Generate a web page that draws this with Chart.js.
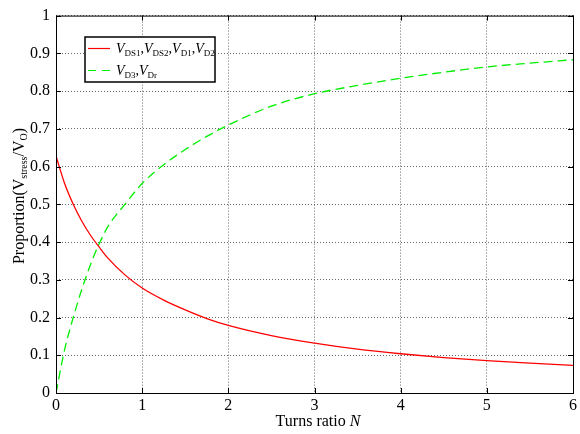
<!DOCTYPE html>
<html>
<head>
<meta charset="utf-8">
<script src="https://cdn.jsdelivr.net/npm/chart.js@4"></script>
<style>
  html, body { margin: 0; padding: 0; background: #fff; }
  #wrap { width: 580px; height: 434px; }
</style>
</head>
<body>
<div id="wrap"><canvas id="my-chart" width="580" height="434"></canvas></div>
<script>
const turnsRatio = [0, 0.1, 0.2, 0.3, 0.4, 0.5, 0.6, 0.8, 1, 1.25, 1.5, 1.75, 2, 2.5, 3, 3.5, 4, 4.5, 5, 5.5, 6];
const switchStress = [0.628, 0.555, 0.5, 0.455, 0.418, 0.387, 0.358, 0.313, 0.278, 0.246, 0.22, 0.197, 0.179, 0.152, 0.132, 0.116, 0.104, 0.094, 0.086, 0.079, 0.073];
const diodeStress = [0, 0.115, 0.2, 0.275, 0.34, 0.395, 0.44, 0.5, 0.555, 0.605, 0.645, 0.68, 0.71, 0.76, 0.793, 0.815, 0.834, 0.85, 0.864, 0.874, 0.883];

const serif = '"Liberation Serif", "Times New Roman", serif';

// draws a run of text parts: [text, 'n'|'i'|'s'] (normal, italic, subscript)
function drawParts(ctx, parts, x, y, size, subScale = 0.68) {
  let cx = x;
  for (const [text, kind] of parts) {
    if (kind === 's') {
      ctx.font = `${Math.round(size * subScale)}px ${serif}`;
      ctx.fillText(text, cx, y + size * 0.2);
    } else {
      ctx.font = `${kind === 'i' ? 'italic ' : ''}${size}px ${serif}`;
      ctx.fillText(text, cx, y);
    }
    cx += ctx.measureText(text).width;
  }
  return cx - x;
}

function measureParts(ctx, parts, size, subScale = 0.68) {
  let w = 0;
  for (const [text, kind] of parts) {
    if (kind === 's') ctx.font = `${Math.round(size * subScale)}px ${serif}`;
    else ctx.font = `${kind === 'i' ? 'italic ' : ''}${size}px ${serif}`;
    w += ctx.measureText(text).width;
  }
  return w;
}

const matlabFrame = {
  id: 'matlabFrame',
  afterDraw(chart) {
    const { ctx, chartArea: a, scales } = chart;
    ctx.save();
    ctx.strokeStyle = '#000';
    ctx.lineWidth = 1;
    ctx.strokeRect(a.left + 0.5, a.top + 0.5, a.right - a.left, a.bottom - a.top);

    // inward ticks on all sides
    ctx.beginPath();
    for (let v = 0; v <= 6; v++) {
      const px = Math.round(scales.x.getPixelForValue(v)) + 0.5;
      ctx.moveTo(px, a.bottom); ctx.lineTo(px, a.bottom - 5);
      ctx.moveTo(px, a.top); ctx.lineTo(px, a.top + 5);
    }
    for (let i = 0; i <= 10; i++) {
      const py = Math.round(scales.y.getPixelForValue(i / 10)) + 0.5;
      ctx.moveTo(a.left, py); ctx.lineTo(a.left + 5, py);
      ctx.moveTo(a.right, py); ctx.lineTo(a.right - 5, py);
    }
    ctx.stroke();

    // axis titles
    ctx.fillStyle = '#000';
    ctx.textBaseline = 'alphabetic';
    const xt = [['Turns ratio ', 'n'], ['N', 'i']];
    const xw = measureParts(ctx, xt, 16);
    drawParts(ctx, xt, 318 - xw / 2, 426, 16);

    const yt = [['Proportion(V', 'n'], ['stress', 's'], ['/V', 'n'], ['O', 's'], [')', 'n']];
    const yw = measureParts(ctx, yt, 16, 0.62);
    ctx.save();
    ctx.translate(24, 196);
    ctx.rotate(-Math.PI / 2);
    drawParts(ctx, yt, -yw / 2, 0, 16, 0.62);
    ctx.restore();

    // legend
    const lx = 85, ly = 37, lw = 130, lh = 45;
    ctx.fillStyle = '#fff';
    ctx.fillRect(lx, ly, lw, lh);
    ctx.lineWidth = 1.5;
    ctx.strokeStyle = '#000';
    ctx.strokeRect(lx, ly, lw, lh);

    ctx.lineWidth = 1.2;
    ctx.strokeStyle = '#ff0000';
    ctx.beginPath(); ctx.moveTo(88, 48.5); ctx.lineTo(110, 48.5); ctx.stroke();
    ctx.strokeStyle = '#00ee00';
    ctx.setLineDash([8, 6]);
    ctx.beginPath(); ctx.moveTo(88, 70.5); ctx.lineTo(110, 70.5); ctx.stroke();
    ctx.setLineDash([]);

    ctx.fillStyle = '#000';
    drawParts(ctx, [['V', 'i'], ['DS1', 's'], [',', 'n'], ['V', 'i'], ['DS2', 's'], [',', 'n'],
      ['V', 'i'], ['D1', 's'], [',', 'n'], ['V', 'i'], ['D2', 's']], 116, 53, 14, 0.62);
    drawParts(ctx, [['V', 'i'], ['D3', 's'], [',', 'n'], ['V', 'i'], ['Dr', 's']], 116, 75, 14, 0.62);
    ctx.restore();
  }
};

const ctx = document.getElementById('my-chart').getContext('2d');

new Chart(ctx, {
  type: 'line',
  data: {
    datasets: [
      {
        label: 'VDS1,VDS2,VD1,VD2',
        data: turnsRatio.map((n, i) => ({ x: n, y: switchStress[i] })),
        borderColor: '#ff0000',
        borderWidth: 1.3,
        pointRadius: 0,
        cubicInterpolationMode: 'monotone',
      },
      {
        label: 'VD3,VDr',
        data: turnsRatio.map((n, i) => ({ x: n, y: diodeStress[i] })),
        borderColor: '#00ee00',
        borderWidth: 1.3,
        borderDash: [9, 5],
        pointRadius: 0,
        cubicInterpolationMode: 'monotone',
      },
    ],
  },
  options: {
    responsive: false,
    animation: false,
    layout: { padding: { top: 11, right: 3, left: 0, bottom: 0 } },
    plugins: {
      legend: { display: false },
      tooltip: { enabled: false },
    },
    scales: {
      x: {
        type: 'linear',
        min: 0,
        max: 6,
        afterFit: (s) => { s.height = 41; },
        ticks: { stepSize: 1, color: '#000', padding: 3, font: { family: serif, size: 16 } },
        grid: { color: '#666', drawTicks: false },
        border: { display: false, dash: [1, 2] },
      },
      y: {
        min: 0,
        max: 1,
        afterFit: (s) => { s.width = 56; },
        ticks: {
          stepSize: 0.1,
          color: '#000',
          padding: 6,
          font: { family: serif, size: 16 },
          callback: (v) => String(Math.round(v * 10) / 10),
        },
        grid: { color: '#666', drawTicks: false },
        border: { display: false, dash: [1, 2] },
      },
    },
  },
  plugins: [matlabFrame],
});
</script>
</body>
</html>
